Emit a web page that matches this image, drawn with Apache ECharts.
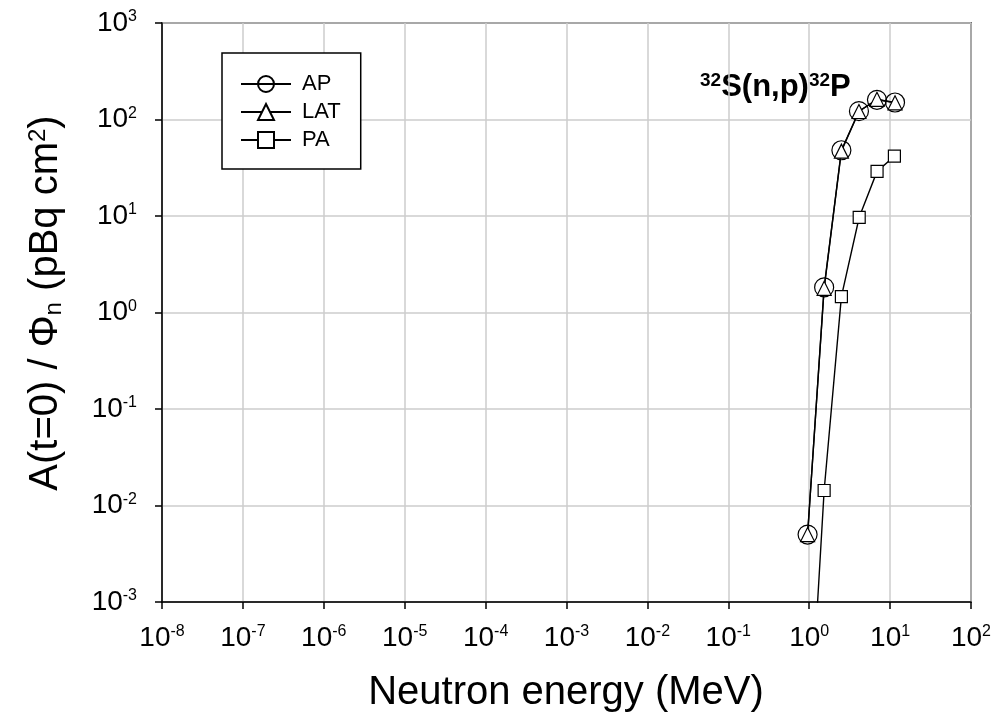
<!DOCTYPE html>
<html><head><meta charset="utf-8">
<script src="https://cdn.jsdelivr.net/npm/echarts@6/dist/echarts.min.js"></script>
<style>html,body{margin:0;padding:0;background:#fff}#c{width:995px;height:722px}</style>
</head><body><div id="c"></div>
<script>
// tick decades (exponents of 10)
const xTickExponents = [-8, -7, -6, -5, -4, -3, -2, -1, 0, 1, 2];
const yTickExponents = [-3, -2, -1, 0, 1, 2, 3];
// series data: neutron energy (MeV) and A(t=0)/Phi_n (pBq cm2)
const energyAP = [0.955, 1.53, 2.5, 4.12, 6.88, 11.5];
const valuesAP = [0.0050, 1.82, 48, 122, 160, 150];
const energyLAT = [0.955, 1.53, 2.5, 4.12, 6.88, 11.5];
const valuesLAT = [0.0050, 1.78, 47, 121, 162, 149];
const energyPA = [0.955, 1.53, 2.5, 4.15, 6.9, 11.3];
const valuesPA = [0.000017, 0.0143, 1.46, 9.7, 29, 41.7];
const seriesNames = ['AP', 'LAT', 'PA'];

const FF = '"Liberation Sans", Arial, sans-serif';
const pairs = (xs, ys) => xs.map((x, i) => [x, ys[i]]);
const expLabel = v => { const e = Math.round(Math.log10(v)); return '{b|10}{e|' + e + '}'; };
const tickRich = {
  b: { fontFamily: FF, fontSize: 28, color: '#000' },
  e: { fontFamily: FF, fontSize: 16, color: '#000', verticalAlign: 'top' }
};

const chart = echarts.init(document.getElementById('c'), null, { renderer: 'canvas' });
const axisCommon = {
  type: 'log', logBase: 10,
  axisLine: { show: true, onZero: false, lineStyle: { color: '#000', width: 1.5 } },
  axisTick: { show: true, inside: false, length: 7, lineStyle: { color: '#000', width: 1.5 } },
  minorTick: { show: false },
  splitLine: { show: true, lineStyle: { color: '#cccccc', width: 1.5 } }
};
const baseSeries = {
  type: 'line', smooth: false, clip: true,
  lineStyle: { color: '#000', width: 1.4 },
  emphasis: { disabled: true }
};
chart.setOption({
  animation: false,
  backgroundColor: '#fff',
  grid: { left: 162, right: 24, top: 23, bottom: 120, containLabel: false, show: true,
          borderColor: '#000', borderWidth: 1.5, backgroundColor: 'transparent' },
  xAxis: Object.assign({}, axisCommon, {
    min: Math.pow(10, xTickExponents[0]), max: Math.pow(10, xTickExponents[xTickExponents.length - 1]),
    interval: 1,
    axisLabel: { margin: 22, fontSize: 28, fontFamily: FF, color: '#000', formatter: expLabel, rich: tickRich }
  }),
  yAxis: Object.assign({}, axisCommon, {
    min: Math.pow(10, yTickExponents[0]), max: Math.pow(10, yTickExponents[yTickExponents.length - 1]),
    interval: 1,
    axisLabel: { margin: 25, fontSize: 28, fontFamily: FF, color: '#000', formatter: expLabel, rich: tickRich }
  }),
  legend: {
    orient: 'vertical', left: 222, top: 53,
    itemWidth: 50, itemHeight: 20, itemGap: 6,
    padding: [20, 20, 18, 18],
    borderColor: '#000', borderWidth: 1.5, backgroundColor: '#fff',
    textStyle: { fontFamily: FF, fontSize: 22, lineHeight: 20, color: '#000', padding: [0, 0, 0, 6] },
    data: seriesNames
  },
  graphic: [
    { type: 'text', x: 566, y: 693, style: { text: 'Neutron energy (MeV)', font: '40px ' + FF, fill: '#000', align: 'center', verticalAlign: 'middle' } },
    { type: 'text', x: 46, y: 303, rotation: Math.PI / 2,
      style: { text: '{m|A(t=0) / Φ}{s|n}{m| (pBq cm}{p|2}{m|)}', align: 'center', verticalAlign: 'middle',
        rich: { m: { font: '40px ' + FF, fill: '#000' },
                s: { font: '24px ' + FF, fill: '#000', verticalAlign: 'bottom' },
                p: { font: '24px ' + FF, fill: '#000', verticalAlign: 'top' } } } },
    { type: 'text', x: 700, y: 87,
      style: { text: '{s|32}{m|S(n,p)}{s|32}{m|P}', align: 'left', verticalAlign: 'middle',
        rich: { m: { font: 'bold 31px ' + FF, fill: '#000' },
                s: { font: 'bold 19px ' + FF, fill: '#000', verticalAlign: 'top' } } } }
  ],
  series: [
    Object.assign({}, baseSeries, { name: seriesNames[0], data: pairs(energyAP, valuesAP), symbol: 'circle', symbolSize: 19,
      itemStyle: { color: 'rgba(255,255,255,0)', borderColor: '#000', borderWidth: 1.2 } }),
    Object.assign({}, baseSeries, { name: seriesNames[1], data: pairs(energyLAT, valuesLAT), symbol: 'triangle', symbolSize: 14,
      itemStyle: { color: '#fff', borderColor: '#000', borderWidth: 1.2 } }),
    Object.assign({}, baseSeries, { name: seriesNames[2], data: pairs(energyPA, valuesPA), symbol: 'rect', symbolSize: 12,
      itemStyle: { color: '#fff', borderColor: '#000', borderWidth: 1.2 } })
  ]
});
</script></body></html>
